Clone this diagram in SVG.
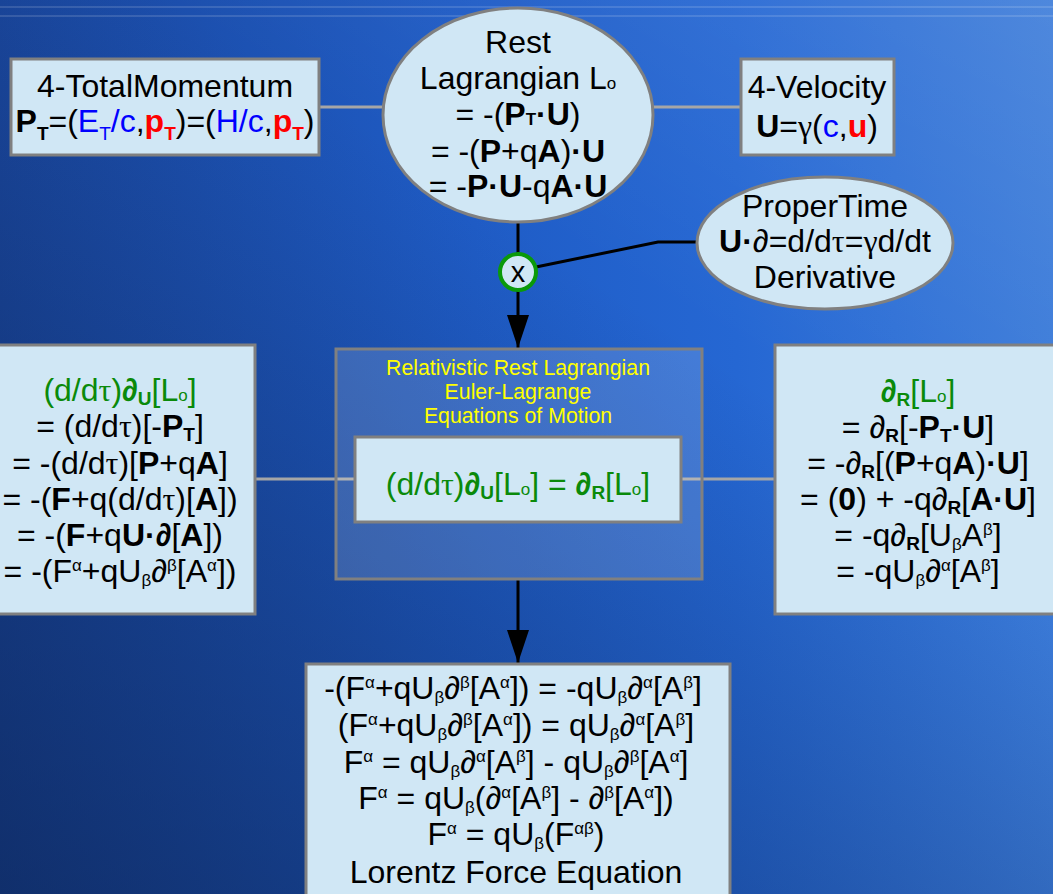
<svg xmlns="http://www.w3.org/2000/svg" width="1053" height="894" viewBox="0 0 1053 894">
<defs>
<linearGradient id="bg" x1="0" y1="0" x2="1" y2="0">
<stop offset="0" stop-color="#1a479e"/>
<stop offset="0.45" stop-color="#1f5cc6"/>
<stop offset="0.7" stop-color="#2567d3"/>
<stop offset="1" stop-color="#3b7bd9"/>
</linearGradient>
<linearGradient id="shade" x1="0" y1="1" x2="0.55" y2="0.3">
<stop offset="0" stop-color="#0a1f4a" stop-opacity="0.6"/>
<stop offset="1" stop-color="#0a1f4a" stop-opacity="0"/>
</linearGradient>
<linearGradient id="glow" x1="0.3" y1="1" x2="1" y2="0">
<stop offset="0.6" stop-color="#ffffff" stop-opacity="0"/>
<stop offset="1" stop-color="#ffffff" stop-opacity="0.1"/>
</linearGradient>
<marker id="arr" markerUnits="userSpaceOnUse" markerWidth="34" markerHeight="24" refX="33" refY="11" orient="auto">
<path d="M0,0 L33,11 L0,22 z" fill="#000"/>
</marker>
<style>
.node{fill:#d0e7f5;stroke:#808080;stroke-width:3}
.t{font-family:"Liberation Sans",Arial,sans-serif;font-size:32px;text-anchor:middle;fill:#000}
.b{font-weight:bold}
.s{font-size:19px}
.sp{font-size:17px}
.gr{font-family:"Liberation Serif","Times New Roman",serif}
.g{fill:#0a8a0a}
.bl{fill:#0000ff}
.rd{fill:#ff0000}
.title{font-family:"Liberation Sans",Arial,sans-serif;font-size:21.3px;text-anchor:middle;fill:#ffff00}
.con{stroke:#a6a6a6;stroke-width:3;fill:none}
.blk{stroke:#000;stroke-width:3;fill:none}
</style>
</defs>
<rect x="0" y="0" width="1053" height="894" fill="url(#bg)"/>
<rect x="0" y="0" width="1053" height="894" fill="url(#shade)"/>
<rect x="0" y="0" width="1053" height="894" fill="url(#glow)"/>
<line x1="0" y1="7" x2="1053" y2="7" stroke="#ffffff" stroke-opacity="0.18" stroke-width="1.5"/>
<line x1="0" y1="16" x2="1053" y2="16" stroke="#ffffff" stroke-opacity="0.18" stroke-width="1.5"/>

<g id="connectors">
<line class="con" x1="319" y1="107" x2="384" y2="107"/>
<line class="con" x1="653" y1="107" x2="741" y2="107"/>
<line class="con" x1="255" y1="479" x2="355" y2="479"/>
<line class="con" x1="681" y1="479" x2="775" y2="479"/>
<line class="blk" x1="518" y1="222" x2="518" y2="254"/>
<polyline class="blk" points="536,267 658,242 698,242"/>
<line class="blk" x1="518" y1="290" x2="518" y2="348" marker-end="url(#arr)"/>
<line class="blk" x1="518" y1="579" x2="518" y2="663" marker-end="url(#arr)"/>
</g>

<g id="totalMomentum">
<rect class="node" x="11" y="59" width="308" height="96"/>
<text class="t" x="165" y="97">4-TotalMomentum</text>
<text class="t" x="165" y="132"><tspan class="b">P</tspan><tspan class="b s" dy="8">T</tspan><tspan dy="-8">=(</tspan><tspan class="bl">E</tspan><tspan class="bl s" dy="8">T</tspan><tspan class="bl" dy="-8">/c</tspan>,<tspan class="b rd">p</tspan><tspan class="b rd s" dy="8">T</tspan><tspan dy="-8">)=(</tspan><tspan class="bl">H/c</tspan>,<tspan class="b rd">p</tspan><tspan class="b rd s" dy="8">T</tspan><tspan dy="-8">)</tspan></text>
</g>

<g id="restLagrangian">
<ellipse class="node" cx="518" cy="115" rx="135" ry="107"/>
<text class="t" x="518" y="53">Rest</text>
<text class="t" x="518" y="89">Lagrangian L<tspan class="sp">o</tspan></text>
<text class="t" x="518" y="125">= -(<tspan class="b">P</tspan><tspan class="b sp">T</tspan><tspan class="b">·U</tspan>)</text>
<text class="t" x="518" y="162">= -(<tspan class="b">P</tspan>+q<tspan class="b">A</tspan>)<tspan class="b">·U</tspan></text>
<text class="t" x="518" y="197">= -<tspan class="b">P·U</tspan>-q<tspan class="b">A·U</tspan></text>
</g>

<g id="velocity">
<rect class="node" x="741" y="59" width="153" height="96"/>
<text class="t" x="817" y="98">4-Velocity</text>
<text class="t" x="817" y="137"><tspan class="b">U</tspan>=<tspan class="gr">γ</tspan>(<tspan class="bl">c</tspan>,<tspan class="b rd">u</tspan>)</text>
</g>

<g id="properTime">
<ellipse class="node" cx="825" cy="243" rx="128" ry="66"/>
<text class="t" x="825" y="217">ProperTime</text>
<text class="t" x="825" y="252"><tspan class="b">U·</tspan>∂=d/d<tspan class="gr">τ</tspan>=<tspan class="gr">γ</tspan>d/dt</text>
<text class="t" x="825" y="288">Derivative</text>
</g>

<g id="times">
<circle cx="518" cy="272" r="18" fill="#d0e7f5" stroke="#0a9a0a" stroke-width="4"/>
<text x="518" y="282" style="font-family:'Liberation Sans',Arial,sans-serif;font-size:29px;text-anchor:middle">x</text>
</g>

<g id="eulerLagrange">
<rect x="336" y="349" width="366" height="230" fill="#ffffff" fill-opacity="0.15" stroke="#808080" stroke-width="3"/>
<text class="title" x="518" y="375">Relativistic Rest Lagrangian</text>
<text class="title" x="518" y="399">Euler-Lagrange</text>
<text class="title" x="518" y="423">Equations of Motion</text>
</g>

<g id="eulerEquation">
<rect class="node" x="355" y="437" width="326" height="85"/>
<text class="t g" x="518" y="495">(d/d<tspan class="gr">τ</tspan>)<tspan class="b">∂</tspan><tspan class="b s" dy="4">U</tspan><tspan dy="-4">[L</tspan><tspan class="sp">o</tspan>] = <tspan class="b">∂</tspan><tspan class="b s" dy="4">R</tspan><tspan dy="-4">[L</tspan><tspan class="sp">o</tspan>]</text>
</g>

<g id="leftSide">
<rect class="node" x="-15" y="345" width="270" height="269"/>
<text class="t g" x="120" y="401">(d/d<tspan class="gr">τ</tspan>)<tspan class="b">∂</tspan><tspan class="b s" dy="4">U</tspan><tspan dy="-4">[L</tspan><tspan class="sp">o</tspan>]</text>
<text class="t" x="120" y="437">= (d/d<tspan class="gr">τ</tspan>)[-<tspan class="b">P</tspan><tspan class="b s" dy="4">T</tspan><tspan dy="-4">]</tspan></text>
<text class="t" x="120" y="474">= -(d/d<tspan class="gr">τ</tspan>)[<tspan class="b">P</tspan>+q<tspan class="b">A</tspan>]</text>
<text class="t" x="120" y="510">= -(<tspan class="b">F</tspan>+q(d/d<tspan class="gr">τ</tspan>)[<tspan class="b">A</tspan>])</text>
<text class="t" x="120" y="546">= -(<tspan class="b">F</tspan>+q<tspan class="b">U·∂</tspan>[<tspan class="b">A</tspan>])</text>
<text class="t" x="120" y="582">= -(F<tspan class="sp" dy="-11">α</tspan><tspan dy="11">+qU</tspan><tspan class="sp" dy="4">β</tspan><tspan dy="-4">∂</tspan><tspan class="sp" dy="-11">β</tspan><tspan dy="11">[A</tspan><tspan class="sp" dy="-11">α</tspan><tspan dy="11">])</tspan></text>
</g>

<g id="rightSide">
<rect class="node" x="775" y="345" width="290" height="269"/>
<text class="t g" x="918" y="402"><tspan class="b">∂</tspan><tspan class="b s" dy="4">R</tspan><tspan dy="-4">[L</tspan><tspan class="sp">o</tspan>]</text>
<text class="t" x="918" y="438">= ∂<tspan class="b s" dy="4">R</tspan><tspan dy="-4">[-</tspan><tspan class="b">P</tspan><tspan class="b s" dy="4">T</tspan><tspan class="b" dy="-4">·U</tspan>]</text>
<text class="t" x="918" y="474">= -∂<tspan class="b s" dy="4">R</tspan><tspan dy="-4">[(</tspan><tspan class="b">P</tspan>+q<tspan class="b">A</tspan>)<tspan class="b">·U</tspan>]</text>
<text class="t" x="918" y="510">= (<tspan class="b">0</tspan>) + -q∂<tspan class="b s" dy="4">R</tspan><tspan dy="-4">[</tspan><tspan class="b">A·U</tspan>]</text>
<text class="t" x="918" y="546">= -q∂<tspan class="b s" dy="4">R</tspan><tspan dy="-4">[U</tspan><tspan class="sp" dy="4">β</tspan><tspan dy="-4">A</tspan><tspan class="sp" dy="-11">β</tspan><tspan dy="11">]</tspan></text>
<text class="t" x="918" y="582">= -qU<tspan class="sp" dy="4">β</tspan><tspan dy="-4">∂</tspan><tspan class="sp" dy="-11">α</tspan><tspan dy="11">[A</tspan><tspan class="sp" dy="-11">β</tspan><tspan dy="11">]</tspan></text>
</g>

<g id="lorentzForce">
<rect class="node" x="306" y="664" width="424" height="240"/>
<text class="t" x="513" y="699">-(F<tspan class="sp" dy="-11">α</tspan><tspan dy="11">+qU</tspan><tspan class="sp" dy="4">β</tspan><tspan dy="-4">∂</tspan><tspan class="sp" dy="-11">β</tspan><tspan dy="11">[A</tspan><tspan class="sp" dy="-11">α</tspan><tspan dy="11">]) = -qU</tspan><tspan class="sp" dy="4">β</tspan><tspan dy="-4">∂</tspan><tspan class="sp" dy="-11">α</tspan><tspan dy="11">[A</tspan><tspan class="sp" dy="-11">β</tspan><tspan dy="11">]</tspan></text>
<text class="t" x="516" y="736">(F<tspan class="sp" dy="-11">α</tspan><tspan dy="11">+qU</tspan><tspan class="sp" dy="4">β</tspan><tspan dy="-4">∂</tspan><tspan class="sp" dy="-11">β</tspan><tspan dy="11">[A</tspan><tspan class="sp" dy="-11">α</tspan><tspan dy="11">]) = qU</tspan><tspan class="sp" dy="4">β</tspan><tspan dy="-4">∂</tspan><tspan class="sp" dy="-11">α</tspan><tspan dy="11">[A</tspan><tspan class="sp" dy="-11">β</tspan><tspan dy="11">]</tspan></text>
<text class="t" x="516" y="773">F<tspan class="sp" dy="-11">α</tspan><tspan dy="11"> = qU</tspan><tspan class="sp" dy="4">β</tspan><tspan dy="-4">∂</tspan><tspan class="sp" dy="-11">α</tspan><tspan dy="11">[A</tspan><tspan class="sp" dy="-11">β</tspan><tspan dy="11">] - qU</tspan><tspan class="sp" dy="4">β</tspan><tspan dy="-4">∂</tspan><tspan class="sp" dy="-11">β</tspan><tspan dy="11">[A</tspan><tspan class="sp" dy="-11">α</tspan><tspan dy="11">]</tspan></text>
<text class="t" x="516" y="809">F<tspan class="sp" dy="-11">α</tspan><tspan dy="11"> = qU</tspan><tspan class="sp" dy="4">β</tspan><tspan dy="-4">(∂</tspan><tspan class="sp" dy="-11">α</tspan><tspan dy="11">[A</tspan><tspan class="sp" dy="-11">β</tspan><tspan dy="11">] - ∂</tspan><tspan class="sp" dy="-11">β</tspan><tspan dy="11">[A</tspan><tspan class="sp" dy="-11">α</tspan><tspan dy="11">])</tspan></text>
<text class="t" x="516" y="845">F<tspan class="sp" dy="-11">α</tspan><tspan dy="11"> = qU</tspan><tspan class="sp" dy="4">β</tspan><tspan dy="-4">(F</tspan><tspan class="sp" dy="-11">αβ</tspan><tspan dy="11">)</tspan></text>
<text class="t" x="516" y="883">Lorentz Force Equation</text>
</g>
</svg>
